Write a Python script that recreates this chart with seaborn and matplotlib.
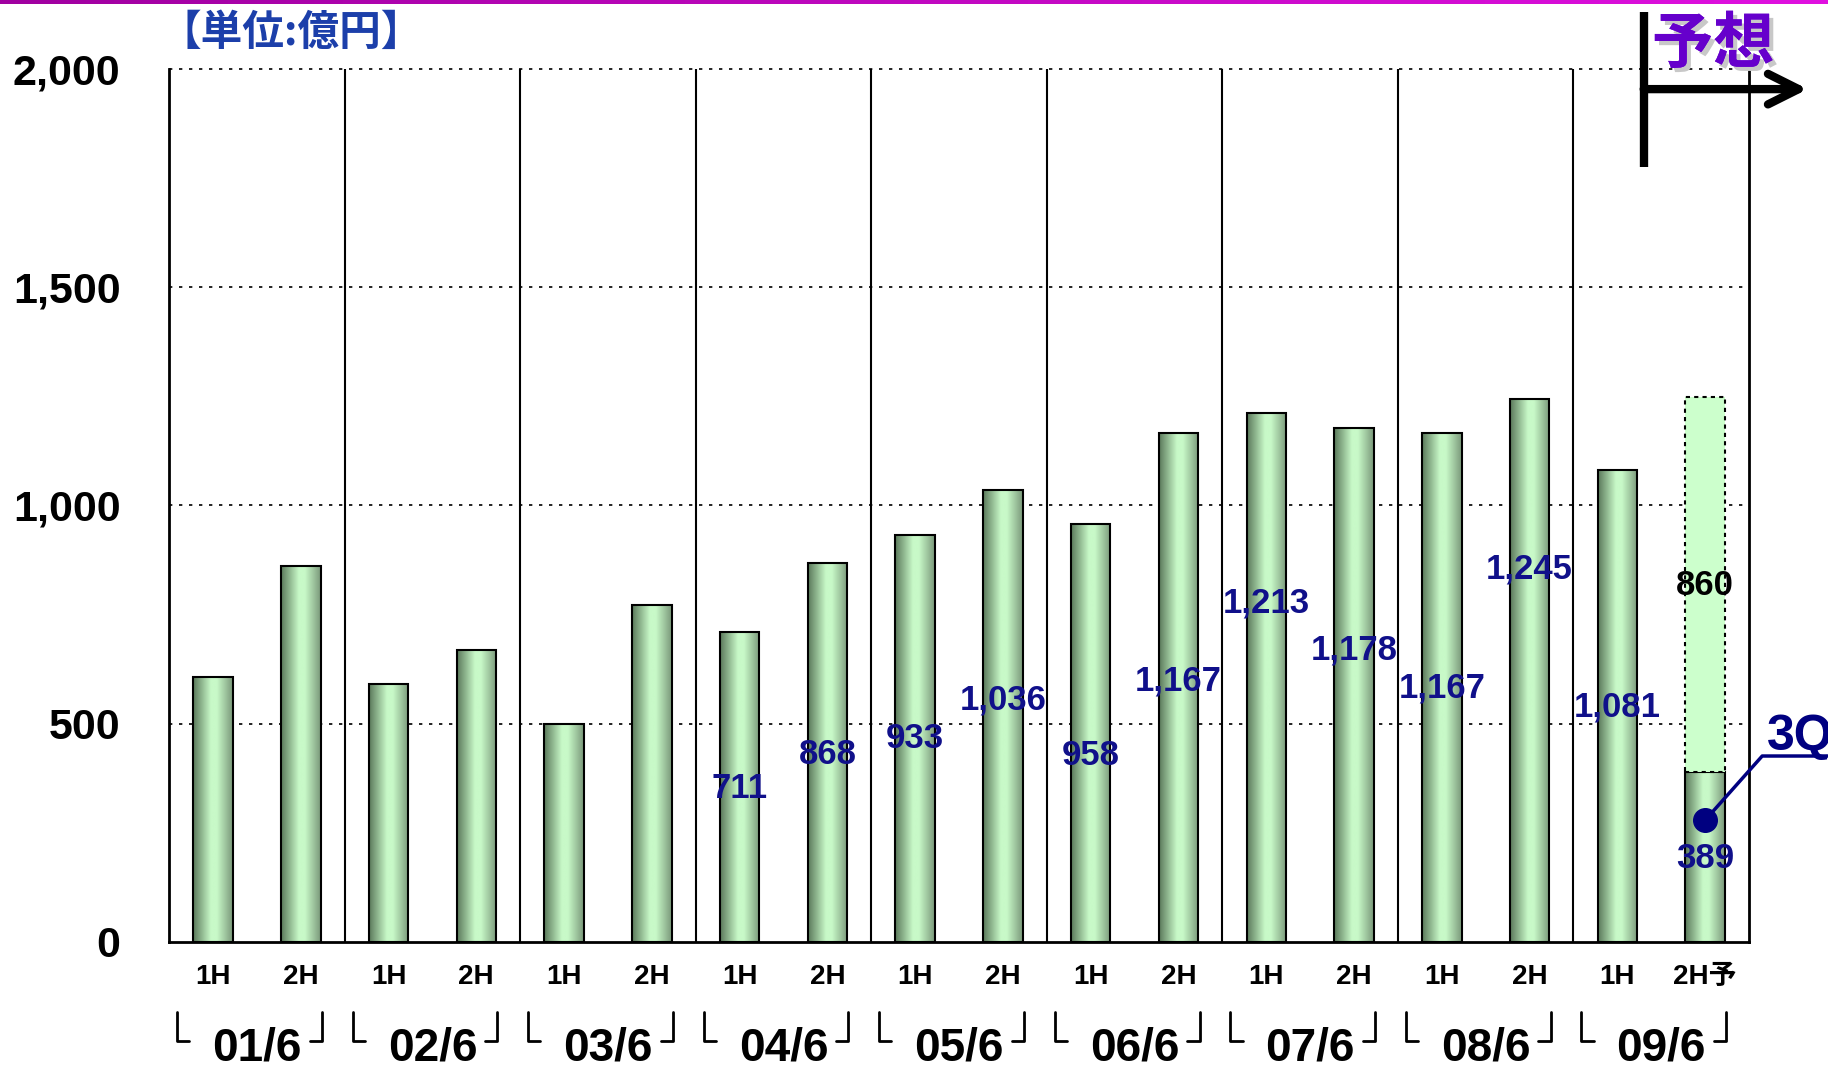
import matplotlib
matplotlib.use('Agg')
import matplotlib.pyplot as plt
import matplotlib.patheffects as pe
from matplotlib.colors import LinearSegmentedColormap
from matplotlib.transforms import blended_transform_factory
import numpy as np
import pandas as pd
import seaborn as sns

# データ (単位: 億円)
periods = ['01/6', '02/6', '03/6', '04/6', '05/6', '06/6', '07/6', '08/6', '09/6']
halves = ['1H', '2H'] * 8 + ['1H', '2H予']
sales = [606, 862, 590, 669, 500, 773, 711, 868, 933, 1036,
         958, 1167, 1213, 1178, 1167, 1245, 1081, 389]
forecast_rest = 860          # 09/6 2H 予想の残り
first_labeled = 6            # 04/6 から数値ラベル
label_y = [352, 430, 465, 555, 427, 598, 777, 670, 582, 854, 539, 192]
forecast_label_y = 817
q3_value = 279

sns.set_style('white')
plt.rcParams['font.family'] = ['Liberation Sans', 'Noto Sans CJK JP']
plt.rcParams['font.weight'] = 'bold'
plt.rcParams['text.color'] = 'black'
plt.rcParams['xtick.color'] = 'black'
plt.rcParams['ytick.color'] = 'black'
NARROW = ['Liberation Sans Narrow', 'Liberation Sans', 'Noto Sans CJK JP']
NAVY = '#10108a'

fig = plt.figure(figsize=(18.28, 10.67), dpi=100)
ax = fig.add_axes([0.0925, 0.1172, 0.8643, 0.8181])

df = pd.DataFrame({'slot': [f'{p} {h}' for p in periods for h in ('1H', '2H')],
                   'sales': sales})
sns.barplot(data=df, x='slot', y='sales', width=0.45, color='#c8f9c8',
            edgecolor='black', linewidth=1.5, ax=ax, zorder=3)

# 円柱風のグラデーション
cyl = LinearSegmentedColormap.from_list(
    'cyl', [(0, '#5a785a'), (0.45, '#c8f9c8'), (0.6, '#c8f9c8'), (1, '#7a987a')])
grad = np.linspace(0, 1, 256).reshape(1, -1)
for bar in list(ax.patches):
    x0, y0, w, h = bar.get_x(), bar.get_y(), bar.get_width(), bar.get_height()
    im = ax.imshow(grad, cmap=cyl, extent=[x0, x0 + w, y0, y0 + h],
                   aspect='auto', zorder=2.5)
    im.set_clip_path(bar)
    bar.set_facecolor('none')

# 予想分
ax.bar(len(sales) - 1, forecast_rest, bottom=sales[-1], width=0.45,
       color='#ccffcc', edgecolor='black', linestyle=(0, (2, 2)),
       linewidth=1.5, zorder=3)

ax.set_xlim(-0.5, 17.5)
ax.set_ylim(0, 2000)

for y in [500, 1000, 1500, 2000]:
    ax.axhline(y, color='black', lw=1.2, ls=(0, (2, 4)), zorder=1, clip_on=False)
for x in np.arange(1.5, 17, 2):
    ax.axvline(x, color='black', lw=1.5, zorder=1)

ax.spines['top'].set_visible(False)
for s in ['left', 'right', 'bottom']:
    ax.spines[s].set_linewidth(2)
    ax.spines[s].set_color('black')

yt = [0, 500, 1000, 1500, 2000]
ax.set_yticks(yt)
ax.set_yticklabels([f'{v:,}' for v in yt], fontsize=31, fontweight='bold')
ax.set_xticks(range(len(sales)))
ax.set_xticklabels(halves, fontsize=20, fontweight='bold', family=NARROW)
ax.tick_params(axis='y', length=0, pad=35)
ax.tick_params(axis='x', length=0, pad=16)
ax.set_xlabel('')
ax.set_ylabel('')

# 期ラベルとカギ括弧
tr = blended_transform_factory(ax.transData, ax.transAxes)
for g, p in enumerate(periods):
    ax.text(2 * g + 0.5, -0.122, p, transform=tr, ha='center', va='center',
            fontsize=33, fontweight='bold', family=NARROW)
    lx, rx = 2 * g - 0.41, 2 * g + 1.24
    ax.plot([lx, lx, lx + 0.14], [-0.080, -0.113, -0.113], transform=tr,
            color='black', lw=2, clip_on=False)
    ax.plot([rx - 0.14, rx, rx], [-0.113, -0.113, -0.080], transform=tr,
            color='black', lw=2, clip_on=False)

# 数値ラベル
for i, y in enumerate(label_y):
    idx = first_labeled + i
    ax.text(idx, y, f'{sales[idx]:,}', ha='center', va='center', fontsize=25,
            fontweight='bold', color=NAVY, zorder=6)
ax.text(len(sales) - 1, forecast_label_y, f'{forecast_rest:,}', ha='center',
        va='center', fontsize=25, fontweight='bold', color='black', zorder=6)

# 3Q 吹き出し
ax.plot([17, 17.65, 18.6], [q3_value, 426, 426], color='#000080', lw=2.5,
        clip_on=False, zorder=6)
ax.plot(17, q3_value, 'o', ms=17, color='#000080', zorder=7, clip_on=False)
ax.text(17.7, 440, '3Q', fontsize=36, fontweight='bold', color='#000080',
        ha='left', va='baseline', clip_on=False)

# 予想 矢印
ax.plot([16.3, 16.3], [1776, 2131], color='black', lw=6, clip_on=False,
        solid_capstyle='butt')
ax.annotate('', xy=(18.17, 1954), xytext=(16.3, 1954),
            arrowprops=dict(arrowstyle='->,head_length=2.2,head_width=1.1',
                            lw=6, color='black', shrinkA=0, shrinkB=0,
                            joinstyle='round', capstyle='round'),
            annotation_clip=False)
fig.text(0.9037, 0.958, '予想', fontsize=44, fontweight='bold', color='#6600cc',
         family=['Noto Sans CJK JP'], ha='left', va='center',
         path_effects=[pe.withSimplePatchShadow(offset=(3, -3),
                                               shadow_rgbFace='#c8c8c8', alpha=1.0),
                       pe.Normal()])

fig.text(0.087, 0.969, '【単位:億円】', fontsize=30, fontweight='bold',
         color='#1c3faa', family=['Noto Sans CJK JP'], ha='left', va='center')

# 上端のライン
top = fig.add_axes([0, 1 - 4 / 1067, 1, 4 / 1067])
top.imshow(grad, cmap=LinearSegmentedColormap.from_list('m', ['#a000a0', '#e010e0']),
           aspect='auto')
top.axis('off')

fig.savefig('out.png', dpi=100)
